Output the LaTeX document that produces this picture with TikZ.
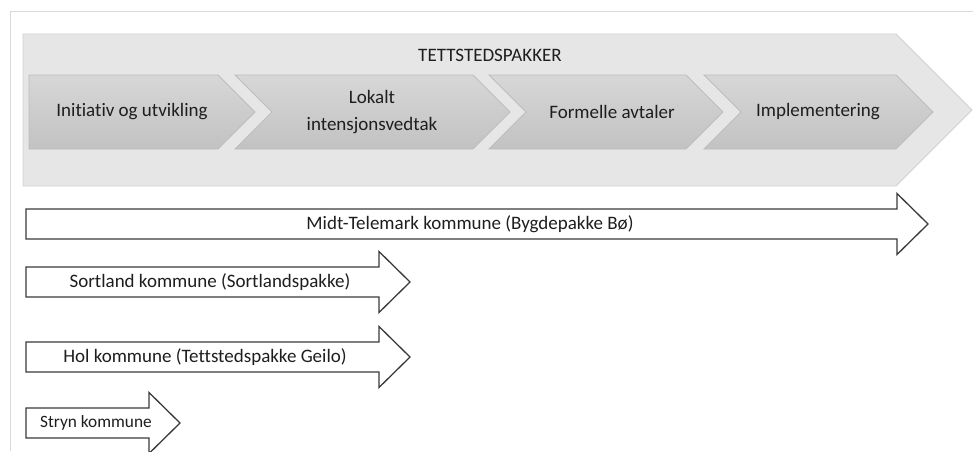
\documentclass[tikz,border=0pt]{standalone}
\usepackage{fontspec}
\setmainfont{Carlito}[Ligatures=CommonOff]
\definecolor{ramme}{HTML}{D9D9D9}
\definecolor{storpil}{HTML}{E6E6E6}
\definecolor{storkant}{HTML}{D0D0D0}
\definecolor{stegtopp}{HTML}{D7D7D7}
\definecolor{stegbunn}{HTML}{C2C2C2}
\definecolor{stegkant}{HTML}{BDBDBD}
\definecolor{tekst}{HTML}{1E1E1E}
\definecolor{pilkant}{HTML}{3A3A3A}
\tikzset{
  stegchev/.style={draw=stegkant,line width=0.8pt,top color=stegtopp,bottom color=stegbunn},
  kommpil/.style={draw=pilkant,fill=white,line width=1.3pt,line join=miter},
  etikett/.style={text=tekst,font=\fontsize{19}{27}\selectfont,align=center,inner sep=0pt}
}
% pil: venstre x, pilhode x, midt y, navn, tekst x, tekst
\newcommand{\kpil}[6]{%
  \draw[kommpil] (#1,#3-15) -- (#2,#3-15) -- (#2,#3-30.5) -- (#2+31,#3) -- (#2,#3+30.5) -- (#2,#3+15) -- (#1,#3+15) -- cycle;
  \node[etikett] (#4) at (#5,#3) {#6};}
\begin{document}
\begin{tikzpicture}[x=1pt,y=-1pt]
  \useasboundingbox (0,0) rectangle (973,451);
  \draw[ramme,line width=1pt] (10,451) -- (10,11) -- (973,11);
  % stor pil
  \draw[draw=storkant,fill=storpil,line width=0.8pt] (23,34) -- (896,34) -- (972,110) -- (896,186) -- (23,186) -- cycle;
  \node[etikett] (tittel) at (490,55) {TETTSTEDSPAKKER};
  % steg
  \foreach \a/\b/\n/\x/\t [count=\i] in {29/218/0/132/{Initiativ og utvikling},235/473/37/372/{Lokalt\\intensjonsvedtak},489/686/37/612/{Formelle avtaler},704/896/37/818/{Implementering}}{
    \draw[stegchev] (\a,75) -- (\b,75) -- (\b+37,112) -- (\b,149) -- (\a,149) -- (\a+\n,112) -- cycle;
    \node[etikett] (steg\i) at (\x,112) {\t};}
  % kommuner
  \kpil{26}{897}{224}{midt}{470}{Midt-Telemark kommune (Bygdepakke Bø)}
  \kpil{26}{379}{282}{sortland}{210}{Sortland kommune (Sortlandspakke)}
  \kpil{26}{379}{357}{hol}{205}{Hol kommune (Tettstedspakke Geilo)}
  \kpil{26}{149}{423}{stryn}{96}{\fontsize{17.3}{20}\selectfont Stryn kommune}
\end{tikzpicture}
\end{document}
